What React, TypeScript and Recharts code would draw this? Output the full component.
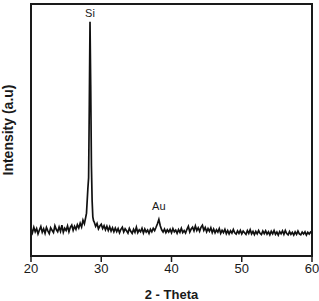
import { LineChart, Line, XAxis, YAxis, ReferenceArea, ReferenceDot } from "recharts";

// 2-theta positions (deg) and intensity (a.u.)
const angle = [
  20.0, 20.2, 20.4, 20.6, 20.8, 21.0, 21.2, 21.4, 21.6, 21.8,
  22.0, 22.2, 22.4, 22.6, 22.8, 23.0, 23.2, 23.4, 23.6, 23.8,
  24.0, 24.2, 24.4, 24.6, 24.8, 25.0, 25.2, 25.4, 25.6, 25.8,
  26.0, 26.2, 26.4, 26.6, 26.8, 27.0, 27.2, 27.4, 27.6, 27.8,
  27.9, 28.0, 28.1, 28.2, 28.3, 28.4, 28.5, 28.6, 28.7, 28.8,
  28.9, 29.0, 29.2, 29.4, 29.6, 29.8, 30.0, 30.2, 30.4, 30.6,
  30.8, 31.0, 31.2, 31.4, 31.6, 31.8, 32.0, 32.2, 32.4, 32.6,
  32.8, 33.0, 33.2, 33.4, 33.6, 33.8, 34.0, 34.2, 34.4, 34.6,
  34.8, 35.0, 35.2, 35.4, 35.6, 35.8, 36.0, 36.2, 36.4, 36.6,
  36.8, 37.0, 37.2, 37.4, 37.6, 37.8, 38.0, 38.2, 38.4, 38.6,
  38.8, 39.0, 39.2, 39.4, 39.6, 39.8, 40.0, 40.2, 40.4, 40.6,
  40.8, 41.0, 41.2, 41.4, 41.6, 41.8, 42.0, 42.2, 42.4, 42.6,
  42.8, 43.0, 43.2, 43.4, 43.6, 43.8, 44.0, 44.2, 44.4, 44.6,
  44.8, 45.0, 45.2, 45.4, 45.6, 45.8, 46.0, 46.2, 46.4, 46.6,
  46.8, 47.0, 47.2, 47.4, 47.6, 47.8, 48.0, 48.2, 48.4, 48.6,
  48.8, 49.0, 49.2, 49.4, 49.6, 49.8, 50.0, 50.2, 50.4, 50.6,
  50.8, 51.0, 51.2, 51.4, 51.6, 51.8, 52.0, 52.2, 52.4, 52.6,
  52.8, 53.0, 53.2, 53.4, 53.6, 53.8, 54.0, 54.2, 54.4, 54.6,
  54.8, 55.0, 55.2, 55.4, 55.6, 55.8, 56.0, 56.2, 56.4, 56.6,
  56.8, 57.0, 57.2, 57.4, 57.6, 57.8, 58.0, 58.2, 58.4, 58.6,
  58.8, 59.0, 59.2, 59.4, 59.6, 59.8, 60.0,
];

const intensity = [
  10.8, 9.2, 11.4, 9.6, 10.9, 8.8, 10.3, 11.7, 9.4, 10.8,
  9.0, 11.3, 10.0, 8.9, 11.2, 10.2, 9.3, 12.0, 10.5, 9.6,
  11.5, 9.8, 12.2, 9.4, 11.0, 10.1, 11.9, 9.6, 11.4, 12.3,
  10.2, 11.8, 10.6, 12.4, 11.1, 13.0, 11.5, 14.2, 12.8, 15.5,
  17.0, 22.0, 27.0, 31.0, 60.0, 93.0, 68.0, 36.0, 22.0, 15.5,
  14.0, 13.5, 11.8, 12.9, 10.8, 11.9, 12.6, 10.9, 12.0, 10.4,
  11.8, 10.1, 11.6, 9.9, 11.2, 9.6, 11.1, 9.7, 10.9, 9.2,
  10.6, 11.4, 9.5, 10.8, 10.0, 9.1, 11.0, 9.8, 9.0, 10.6,
  9.4, 11.4, 9.3, 10.4, 9.6, 11.0, 9.1, 10.7, 9.5, 10.3,
  9.0, 10.6, 9.6, 11.0, 10.1, 11.4, 12.8, 14.5, 12.0, 10.4,
  9.5, 10.7, 9.3, 10.4, 9.5, 10.6, 9.2, 10.9, 9.6, 10.3,
  9.0, 10.5, 9.4, 11.0, 9.3, 10.1, 9.1, 10.6, 11.8, 9.5,
  10.7, 11.4, 10.0, 11.9, 10.1, 11.2, 9.8, 11.4, 12.2, 10.2,
  11.3, 9.6, 10.9, 9.8, 11.2, 9.3, 10.7, 9.2, 10.4, 9.5,
  10.9, 9.0, 10.2, 9.3, 10.6, 8.9, 10.1, 8.8, 10.0, 9.1,
  10.5, 9.2, 8.7, 10.0, 9.0, 10.2, 8.8, 9.9, 9.2, 8.6,
  10.1, 9.0, 10.4, 8.8, 9.8, 8.5, 9.8, 8.8, 10.1, 9.0,
  8.5, 9.9, 8.9, 10.0, 8.7, 9.6, 8.4, 9.8, 8.8, 10.1,
  8.6, 9.5, 8.3, 9.7, 8.8, 10.0, 8.6, 10.1, 8.9, 8.4,
  9.7, 8.6, 9.4, 8.3, 9.6, 8.6, 9.9, 8.8, 8.4, 9.5,
  8.7, 9.6, 8.3, 9.4, 8.7, 9.5, 9.0,
];

const xTicks = [20, 30, 40, 50, 60];

const peaks = [
  { name: "Si", angle: 28.4, intensity: 93, offset: 5 },
  { name: "Au", angle: 38.2, intensity: 14.5, offset: 9 },
];

const data = angle.map((a, i) => ({ angle: a, intensity: intensity[i] }));

const font = "'Liberation Sans', Arial, sans-serif";

export default function App() {
  return (
    <div style={{ position: "absolute", left: 0, top: 0, background: "#fff" }}>
      <LineChart
        width={319}
        height={301}
        data={data}
        margin={{ top: 4, right: 7, bottom: 0, left: 0 }}
      >
        <XAxis
          dataKey="angle"
          type="number"
          domain={[20, 60]}
          ticks={xTicks}
          tickSize={6}
          height={45}
          axisLine={{ stroke: "#1a1a1a", strokeWidth: 2 }}
          tickLine={{ stroke: "#1a1a1a", strokeWidth: 1.5 }}
          tick={{ fill: "#1a1a1a", fontSize: 13, fontFamily: font }}
          label={{
            value: "2 - Theta",
            position: "insideBottom",
            offset: 2,
            fill: "#1a1a1a",
            fontSize: 13,
            fontWeight: "bold",
            fontFamily: font,
          }}
        />
        <YAxis
          type="number"
          domain={[0, 100]}
          width={31}
          tick={false}
          tickLine={false}
          axisLine={{ stroke: "#1a1a1a", strokeWidth: 2 }}
          label={{
            value: "Intensity (a.u)",
            angle: -90,
            position: "center",
            dx: -7,
            fill: "#1a1a1a",
            fontSize: 14,
            fontWeight: "bold",
            fontFamily: font,
          }}
        />
        <ReferenceArea
          x1={20}
          x2={60}
          y1={0}
          y2={100}
          fill="none"
          fillOpacity={0}
          stroke="#1a1a1a"
          strokeWidth={2}
          strokeOpacity={1}
        />
        <Line
          type="linear"
          dataKey="intensity"
          stroke="#111"
          strokeWidth={1.7}
          dot={false}
          isAnimationActive={false}
        />
        {peaks.map((p) => (
          <ReferenceDot
            key={p.name}
            x={p.angle}
            y={p.intensity}
            r={0}
            stroke="none"
            label={{
              value: p.name,
              position: "top",
              offset: p.offset,
              fill: "#1a1a1a",
              fontSize: 11,
              fontFamily: font,
            }}
          />
        ))}
      </LineChart>
    </div>
  );
}
